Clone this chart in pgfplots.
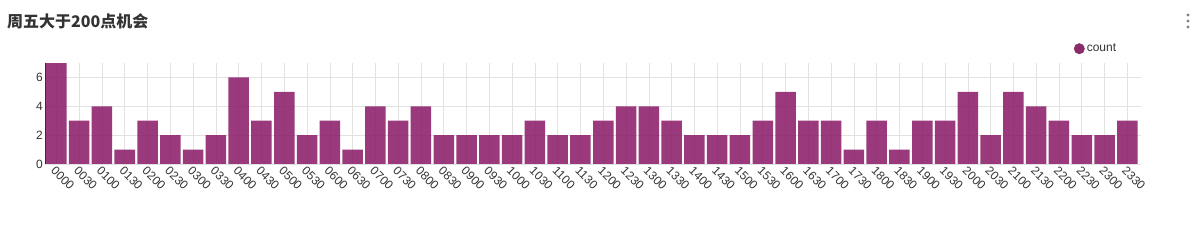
\documentclass[border=0pt]{standalone}
\usepackage{pgfplots}
\pgfplotsset{compat=1.18}
\usepackage{pgfplotstable}
\usepackage{fontspec}
\setmainfont{Liberation Sans}
\newfontfamily\cjk{Noto Sans CJK SC}
\definecolor{barc}{RGB}{140,30,105}
\definecolor{legc}{RGB}{122,14,85}
\definecolor{txt}{RGB}{51,51,51}
\definecolor{gridc}{RGB}{226,226,226}
\pgfplotstableread{
x y
0 7
1 3
2 4
3 1
4 3
5 2
6 1
7 2
8 6
9 3
10 5
11 2
12 3
13 1
14 4
15 3
16 4
17 2
18 2
19 2
20 2
21 3
22 2
23 2
24 3
25 4
26 4
27 3
28 2
29 2
30 2
31 3
32 5
33 3
34 3
35 1
36 3
37 1
38 3
39 3
40 5
41 2
42 5
43 4
44 3
45 2
46 2
47 3
}\counts
\begin{document}
\begin{tikzpicture}
\path[use as bounding box] (0pt,0pt) rectangle (1199pt,251pt);
\node[anchor=base west, text=txt, font=\cjk\bfseries\fontsize{16}{19}\selectfont, inner sep=0pt] at (7pt,223pt) {周五大于200点机会};
\foreach \yy in {236pt,230pt,224pt} \fill[gray] (1188pt,\yy) circle (1.6pt);
\begin{axis}[
  at={(45pt,87pt)}, anchor=south west, scale only axis,
  width=1096pt, height=101pt,
  xmin=-0.5, xmax=47.6, ymin=0, ymax=7,
  ybar, bar width=0.9,
  xtick={0,...,47},
  xticklabels={0000,0030,0100,0130,0200,0230,0300,0330,0400,0430,0500,0530,0600,0630,0700,0730,0800,0830,0900,0930,1000,1030,1100,1130,1200,1230,1300,1330,1400,1430,1500,1530,1600,1630,1700,1730,1800,1830,1900,1930,2000,2030,2100,2130,2200,2230,2300,2330},
  ytick={0,2,4,6},
  xmajorgrids, ymajorgrids,
  grid style={gridc, line width=0.6pt},
  major tick length=0pt,
  separate axis lines,
  axis x line*=bottom, axis y line*=left,
  x axis line style={draw=none},
  y axis line style={txt, line width=0.8pt},
  xticklabel style={rotate=-45, anchor=north west, font=\fontsize{12}{14}\selectfont, text=txt, inner sep=1pt},
  yticklabel style={font=\fontsize{12}{14}\selectfont, text=txt, inner sep=2pt},
  /pgf/number format/assume math mode=true,
  legend style={at={(0.9385,1.1416)}, anchor=west, draw=none, fill=none, inner sep=0pt,
    font=\fontsize{12}{14}\selectfont, text=txt},
  legend image code/.code={\fill[legc] (4pt,0pt) circle[radius=5.5pt];},
]
\addplot[fill=barc, fill opacity=0.88, draw=none] table[x=x,y=y] {\counts};
\addlegendentry{count}
\end{axis}
\end{tikzpicture}
\end{document}
